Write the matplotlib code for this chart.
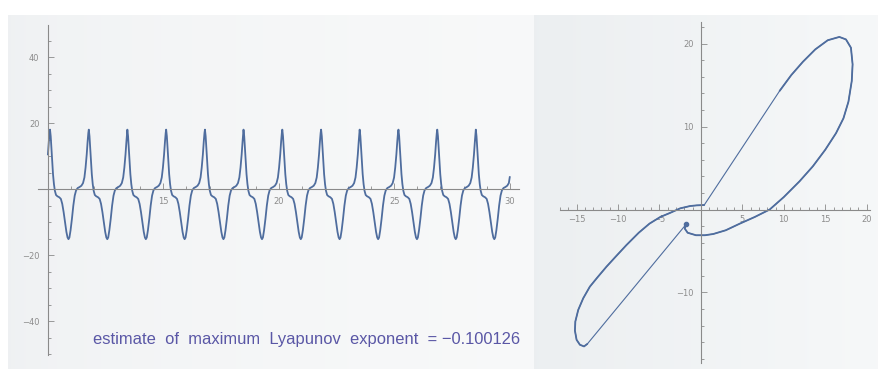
import numpy as np
import matplotlib.pyplot as plt
from matplotlib.ticker import MultipleLocator

# --- left panel: x(t), one spike cycle (offset from peak, value)
cycle_offset = [0.00, 0.03, 0.06, 0.09, 0.13, 0.17, 0.21, 0.26, 0.32, 0.40, 0.47,
                0.53, 0.59, 0.65, 0.71, 0.76, 0.80, 0.84, 0.89, 0.95, 1.01, 1.07,
                1.13, 1.20, 1.28, 1.36, 1.43, 1.49, 1.54, 1.59, 1.63, 1.66]
cycle_value = [18.0, 16.0, 12.5, 8.5, 4.5, 1.5, -0.5, -1.8, -2.2, -2.5, -3.0,
               -4.5, -7.0, -10.0, -13.0, -14.7, -15.2, -14.7, -12.5, -9.0, -5.0, -2.0,
               -0.4, 0.3, 0.6, 1.0, 1.8, 3.5, 6.5, 10.5, 14.5, 17.0]
# times of the spikes (first one lies before the plotted window)
peak_times = [8.41, 10.09, 11.77, 13.44, 15.12, 16.80, 18.47, 20.15,
              21.83, 23.50, 25.18, 26.86, 28.53]
t_start, t_end = 10.0, 30.0
tail_t = [30.0]
tail_v = [3.6]

lyap_label = "estimate  of  maximum  Lyapunov  exponent  = \u22120.100126"

# --- right panel: phase portrait, traced from the hook point
phase_x = [-1.8, -1.95, -1.6, -0.6, 0.5, 1.5, 3.0, 4.7, 6.5, 8.3, 10.0, 11.9,
           13.5, 15.0, 16.3, 17.2, 17.8, 18.2, 18.3, 18.1, 17.5, 16.7, 15.3, 13.8,
           12.3, 10.9, 9.5,
           0.4, -0.5, -1.3, -2.5, -3.7, -4.9, -6.2, -7.5, -9.0, -10.3, -11.4, -12.5,
           -13.4, -14.2, -14.8, -15.15, -15.2, -15.0, -14.6, -14.1, -13.7, -1.8]
phase_y = [-1.8, -2.3, -2.8, -3.1, -3.1, -2.95, -2.5, -1.7, -0.9, 0.0, 1.5, 3.4,
           5.2, 7.2, 9.2, 11.0, 13.0, 15.5, 17.5, 19.5, 20.5, 20.8, 20.4, 19.3,
           17.8, 16.2, 14.3,
           0.54, 0.5, 0.42, 0.14, -0.4, -0.9, -1.7, -2.8, -4.3, -5.7, -6.9, -8.2,
           -9.3, -10.7, -12.1, -13.5, -14.6, -15.7, -16.3, -16.5, -16.2, -1.8]
# index ranges of the two straight (thin) pieces
thin_pieces = [(26, 28), (47, 49)]

line_color = "#4f6d9e"
axis_color = "#8a8a8a"
label_color = "#8c8c8c"

fig = plt.figure(figsize=(8.79, 3.69), dpi=100)
fig.patch.set_facecolor("white")

# screenshot panels (light grey gradients)
bg = fig.add_axes([0, 0, 1, 1], zorder=-10)
bg.axis("off")
grad_l = np.linspace(0, 1, 256)
left_rgb = np.zeros((2, 256, 3))
for k, (c0, c1) in enumerate(zip((0.935, 0.943, 0.950), (0.972, 0.976, 0.978))):
    left_rgb[:, :, k] = c0 + (c1 - c0) * np.sqrt(grad_l)
bg.imshow(left_rgb, extent=[8, 534, 369, 15], aspect="auto")
right_rgb = np.zeros((2, 256, 3))
for k, (c0, c1) in enumerate(zip((0.925, 0.937, 0.945), (0.965, 0.972, 0.975))):
    right_rgb[:, :, k] = c0 + (c1 - c0) * grad_l
bg.imshow(right_rgb, extent=[534, 879, 369, 15], aspect="auto")
bg.set_xlim(0, 879)
bg.set_ylim(369, 0)


def style_axes(ax, xspine_at, yspine_at):
    ax.patch.set_alpha(0)
    for side in ("top", "right"):
        ax.spines[side].set_visible(False)
    ax.spines["left"].set_position(("data", yspine_at))
    ax.spines["bottom"].set_position(("data", xspine_at))
    for side in ("left", "bottom"):
        ax.spines[side].set_color(axis_color)
        ax.spines[side].set_linewidth(0.8)
    ax.tick_params(which="both", direction="in", color=axis_color, width=0.6,
                   labelsize=6, labelcolor=label_color)
    ax.tick_params(which="major", length=4)
    ax.tick_params(which="minor", length=2)


# ---------------- left: time series ----------------
ts_t, ts_v = [], []
for p in peak_times:
    for off, val in zip(cycle_offset, cycle_value):
        if t_start <= p + off <= t_end:
            ts_t.append(p + off)
            ts_v.append(val)
ts_t += tail_t
ts_v += tail_v

ax1 = fig.add_axes([38 / 879, 14 / 369, 481 / 879, 330 / 369])
ax1.plot(ts_t, ts_v, color=line_color, lw=1.3, solid_joinstyle="round")
ax1.set_xlim(9.57, 30.4)
ax1.set_ylim(-50.3, 49.7)
style_axes(ax1, 0, 10)
ax1.set_xticks([15, 20, 25, 30])
ax1.xaxis.set_minor_locator(MultipleLocator(1))
ax1.set_yticks([-40, -20, 20, 40])
ax1.yaxis.set_minor_locator(MultipleLocator(5))
ax1.tick_params(axis="x", pad=6)
ax1.tick_params(axis="y", pad=6)
ax1.set_yticklabels(["\u221240", "\u221220", "20", "40"])
ax1.text(93, 344, lyap_label, transform=bg.transData, fontsize=11.9,
         color="#5a57a6", family="Liberation Sans", va="baseline", ha="left")

# ---------------- right: phase portrait ----------------
ax2 = fig.add_axes([560 / 879, 6 / 369, 310 / 879, 341 / 369])
ax2.plot(phase_x, phase_y, color=line_color, lw=0.8)
start = 0
for a, b in thin_pieces:
    ax2.plot(phase_x[start:a + 1], phase_y[start:a + 1], color=line_color,
             lw=1.3, solid_capstyle="round")
    start = b - 1
ax2.plot(phase_x[0], phase_y[0], "o", color=line_color, ms=3)
ax2.set_xlim(-17.0, 20.4)
ax2.set_ylim(-18.5, 22.6)
style_axes(ax2, 0, 0)
ax2.set_xticks([-15, -10, -5, 5, 10, 15, 20])
ax2.set_xticklabels(["\u221215", "\u221210", "\u22125", "5", "10", "15", "20"])
ax2.xaxis.set_minor_locator(MultipleLocator(1))
ax2.set_yticks([-10, 10, 20])
ax2.set_yticklabels(["\u221210", "10", "20"])
ax2.yaxis.set_minor_locator(MultipleLocator(2))
ax2.tick_params(axis="x", pad=4)
ax2.tick_params(axis="y", pad=5)

fig.savefig("out.png", dpi=100)
